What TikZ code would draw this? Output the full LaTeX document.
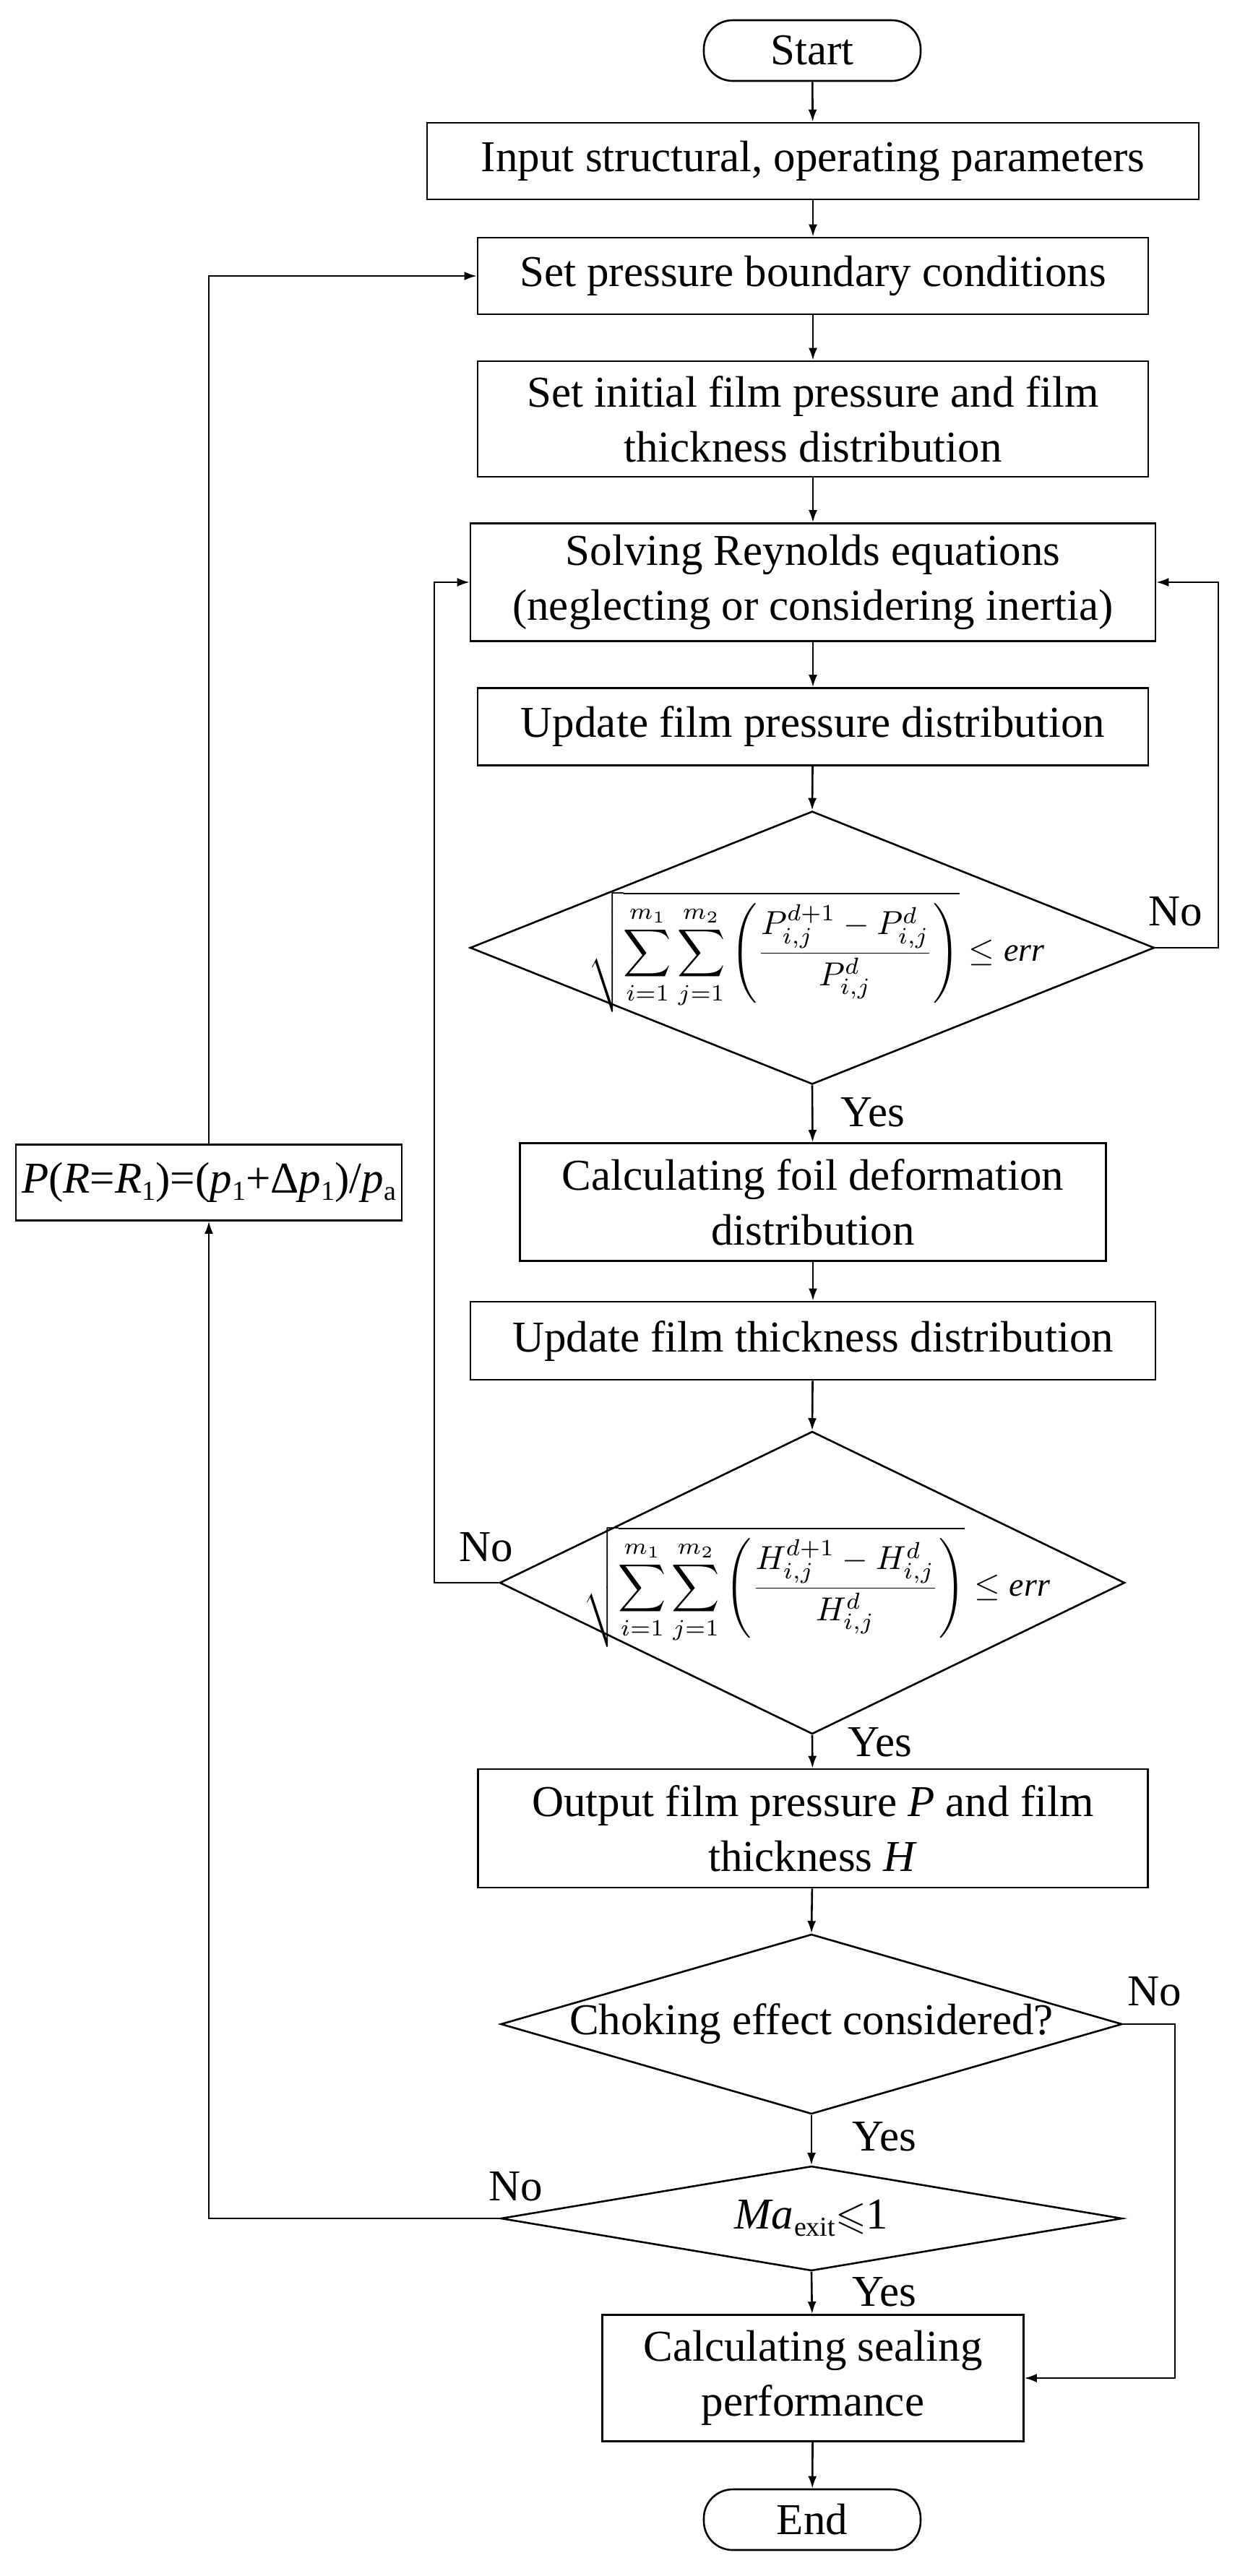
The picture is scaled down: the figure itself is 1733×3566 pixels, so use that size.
\documentclass[tikz,border=0pt]{standalone}
\usepackage{amssymb}
\usepackage{fontspec}
\setmainfont{Liberation Serif}
\usetikzlibrary{arrows.meta,shapes.geometric}
\newcommand{\myform}[1]{\scalebox{4.6}{\normalsize$\displaystyle\sqrt{\sum_{i=1}^{m_1}\sum_{j=1}^{m_2}\left(\frac{#1_{i,j}^{d+1}-#1_{i,j}^{d}}{#1_{i,j}^{d}}\right)}\le \mathit{err}$}}
\newcommand{\mysub}[1]{\raisebox{-10pt}{\fontsize{38}{42}\selectfont #1}}
\begin{document}
\fontsize{61}{76}\selectfont
\begin{tikzpicture}[x=1pt,y=-1pt,
  line width=2.6pt,
  box/.style={draw,rectangle,align=center,inner sep=0pt},
  term/.style={draw,rectangle,rounded corners=40pt,inner sep=0pt,minimum width=300pt,minimum height=84pt},
  dia/.style={draw,diamond,inner sep=0pt,shape aspect=1},
  arr/.style={-{Latex[length=17pt,width=12pt]}},
  lab/.style={inner sep=0pt}]
\useasboundingbox (0,0) rectangle (1733,3566);
\node[term] (start) at (1124,70) {Start};
\node[box,minimum width=1068pt,minimum height=106pt] (input) at (1125,223) {Input structural, operating parameters};
\node[box,minimum width=928pt,minimum height=106pt] (bc) at (1125,382) {Set pressure boundary conditions};
\node[box,minimum width=928pt,minimum height=160pt] (init) at (1125,580) {Set initial film pressure and film\\thickness distribution};
\node[box,minimum width=948pt,minimum height=163pt] (solve) at (1125,806) {Solving Reynolds equations\\(neglecting or considering inertia)};
\node[box,minimum width=928pt,minimum height=107pt] (updP) at (1125,1006) {Update film pressure distribution};
\node[dia,minimum width=947pt,minimum height=378pt] (d1) at (1124,1312) {};
\node[lab] (f1) at (1130,1318) {\myform{P}};
\node[box,minimum width=811pt,minimum height=163pt] (foil) at (1125,1664) {Calculating foil deformation\\distribution};
\node[box,minimum width=948pt,minimum height=108pt] (updH) at (1125,1856) {Update film thickness distribution};
\node[dia,minimum width=865pt,minimum height=419pt] (d2) at (1124,2191) {};
\node[lab] (f2) at (1130,2197) {\myform{H}};
\node[box,minimum width=927pt,minimum height=164pt] (out) at (1125,2531) {Output film pressure \textit{P} and film\\thickness \textit{H}};
\node[dia,minimum width=860pt,minimum height=249pt] (d3) at (1123,2802) {};
\node[lab] (t3) at (1123,2802) {Choking effect considered?};
\node[dia,minimum width=860pt,minimum height=145pt] (d4) at (1123,3071) {};
\node[lab] (t4) at (1123,3071) {\textit{Ma}\kern1pt\mysub{exit}\scalebox{5.5}{\normalsize$\leqslant$}1};
\node[box,minimum width=583pt,minimum height=175pt] (seal) at (1125,3292) {Calculating sealing\\performance};
\node[term] (end) at (1124,3488) {End};
\node[box,minimum width=534pt,minimum height=105pt] (pbox) at (289,1637) {\textit{P}(\textit{R}=\textit{R}\mysub{1})=(\textit{p}\mysub{1}+Δ\textit{p}\mysub{1})/\textit{p}\mysub{a}};
\coordinate (cR1) at (1686,1312);
\coordinate (cR1t) at (1686,806);
\coordinate (cL2) at (601,2191);
\coordinate (cL2t) at (601,806);
\coordinate (cR3) at (1626,2802);
\coordinate (cR3b) at (1626,3292);
\coordinate (cL4) at (289,3071);
\coordinate (cPt) at (289,382);
\draw[arr] (start) -- (input);
\draw[arr] (input) -- (bc);
\draw[arr] (bc) -- (init);
\draw[arr] (init) -- (solve);
\draw[arr] (solve) -- (updP);
\draw[arr] (updP) -- (d1.north);
\draw[arr] (d1.south) -- (foil);
\draw[arr] (foil) -- (updH);
\draw[arr] (updH) -- (d2.north);
\draw[arr] (d2.south) -- (out);
\draw[arr] (out) -- (d3.north);
\draw[arr] (d3.south) -- (d4.north);
\draw[arr] (d4.south) -- (seal);
\draw[arr] (seal) -- (end);
\draw[arr,line width=2.2pt] (d1.east) -- (cR1) -- (cR1t) -- (solve.east);
\draw[arr,line width=2.2pt] (d2.west) -- (cL2) -- (cL2t) -- (solve.west);
\draw[arr,line width=2.2pt] (d3.east) -- (cR3) -- (cR3b) -- (seal.east);
\draw[arr,line width=2.2pt] (d4.west) -- (cL4) -- (pbox.south);
\draw[arr,line width=2.2pt] (pbox.north) -- (cPt) -- (bc.west);
\node[lab] (y1) at (1208,1540) {Yes};
\node[lab] (n1) at (1627,1262) {No};
\node[lab] (n2) at (673,2142) {No};
\node[lab] (y2) at (1218,2412) {Yes};
\node[lab] (n3) at (1598,2757) {No};
\node[lab] (y3) at (1224,2958) {Yes};
\node[lab] (n4) at (714,3027) {No};
\node[lab] (y4) at (1224,3173) {Yes};
\end{tikzpicture}
\end{document}
